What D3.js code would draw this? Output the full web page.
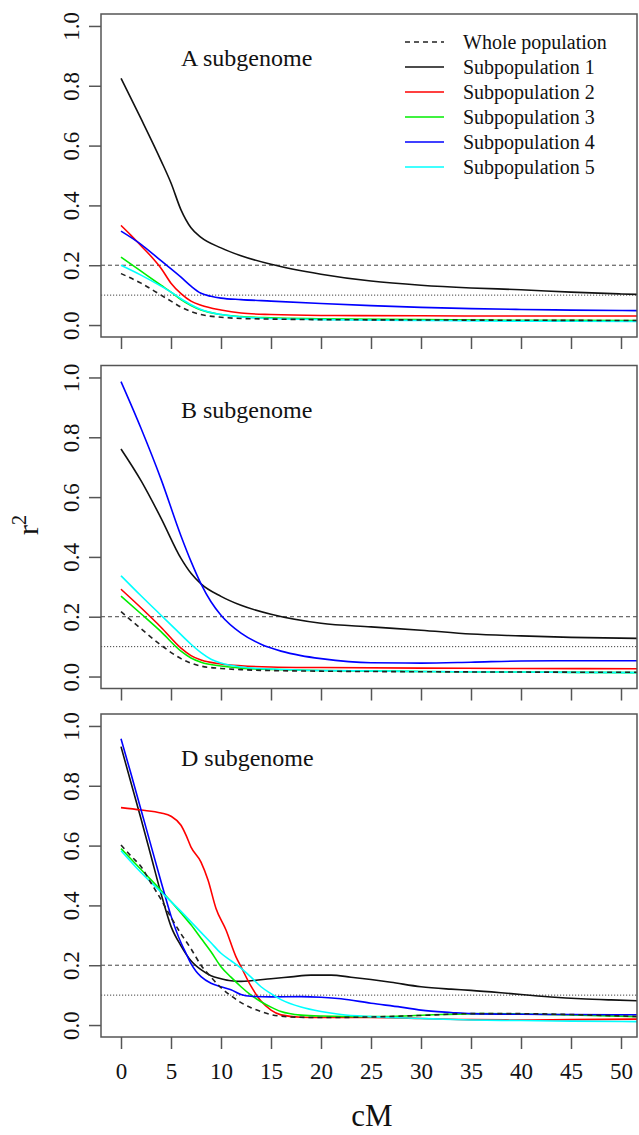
<!DOCTYPE html>
<html lang="en">
  <head>
    <meta charset="UTF-8" />
    <title>LD decay by subgenome</title>
    <script src="https://d3js.org/d3.v7.min.js"></script>
    <style>
      body {
        margin: 0;
        background: #fff;
        font-family: "Liberation Serif", "DejaVu Serif", serif;
      }
      .box {
        fill: none;
        stroke: #555;
        stroke-width: 1.5px;
      }
      .tick line {
        stroke: #555;
        stroke-width: 1.5px;
      }
      .series {
        fill: none;
        stroke-width: 1.6px;
      }
      .ref {
        stroke: #444;
        stroke-width: 1px;
      }
    </style>
  </head>
  <body>
    <svg id="chart" width="639" height="1135"></svg>
    <script>
      // ---- data ----
      const panels = ["A subgenome", "B subgenome", "D subgenome"];
      const seriesNames = [
        "Whole population",
        "Subpopulation 1",
        "Subpopulation 2",
        "Subpopulation 3",
        "Subpopulation 4",
        "Subpopulation 5",
      ];
      const seriesColors = ["#222", "#111", "#ff0000", "#00ee00", "#0000ff", "#00ffff"];
      const xTicks = [0, 5, 10, 15, 20, 25, 30, 35, 40, 45, 50];
      const yTicks = [0.0, 0.2, 0.4, 0.6, 0.8, 1.0];

      // [cM, r2] pairs, one array per series per panel
      const aWhole = [[0,0.172],[2,0.14],[4,0.1],[5,0.08],[6,0.06],[7,0.045],[8,0.035],[10,0.026],[12,0.022],[15,0.02],[20,0.018],[30,0.017],[40,0.016],[53,0.015]];
      const aSub1 = [[0,0.825],[2,0.69],[4,0.55],[5,0.475],[6,0.385],[7,0.325],[8,0.293],[10,0.258],[12,0.232],[15,0.203],[20,0.170],[25,0.147],[30,0.133],[35,0.124],[40,0.118],[45,0.110],[50,0.104],[53,0.101]];
      const aSub2 = [[0,0.333],[1,0.30],[2,0.265],[3,0.23],[4,0.19],[5,0.14],[6,0.105],[7,0.08],[8,0.066],[10,0.05],[12,0.04],[15,0.035],[20,0.032],[30,0.031],[40,0.030],[53,0.030]];
      const aSub3 = [[0,0.227],[2,0.18],[4,0.133],[5,0.11],[6,0.085],[7,0.065],[8,0.05],[10,0.035],[12,0.028],[15,0.024],[20,0.021],[30,0.018],[40,0.016],[53,0.015]];
      const aSub4 = [[0,0.314],[2,0.27],[4,0.215],[6,0.16],[7,0.13],[8,0.106],[9,0.096],[10,0.09],[12,0.085],[15,0.08],[20,0.072],[25,0.065],[30,0.059],[35,0.055],[40,0.052],[45,0.05],[53,0.048]];
      const aSub5 = [[0,0.2],[2,0.167],[4,0.13],[5,0.11],[6,0.088],[7,0.068],[8,0.052],[10,0.035],[12,0.027],[15,0.022],[20,0.018],[30,0.015],[40,0.013],[53,0.012]];

      const bWhole = [[0,0.217],[2,0.16],[4,0.105],[6,0.06],[7,0.045],[8,0.035],[10,0.027],[12,0.023],[15,0.02],[20,0.018],[30,0.016],[40,0.015],[53,0.014]];
      const bSub1 = [[0,0.761],[2,0.655],[4,0.53],[6,0.395],[7,0.345],[8,0.31],[10,0.268],[12,0.238],[15,0.208],[20,0.178],[25,0.166],[30,0.155],[35,0.142],[40,0.136],[45,0.131],[53,0.127]];
      const bSub2 = [[0,0.292],[2,0.23],[4,0.165],[6,0.095],[7,0.07],[8,0.055],[10,0.042],[12,0.036],[15,0.032],[20,0.03],[30,0.028],[40,0.027],[53,0.026]];
      const bSub3 = [[0,0.269],[2,0.21],[4,0.15],[6,0.085],[7,0.062],[8,0.048],[10,0.035],[12,0.028],[15,0.024],[20,0.02],[30,0.017],[40,0.015],[53,0.013]];
      const bSub4 = [[0,0.986],[2,0.83],[4,0.66],[6,0.47],[7,0.385],[8,0.31],[9,0.25],[10,0.205],[12,0.145],[14,0.108],[16,0.085],[18,0.07],[20,0.06],[25,0.046],[30,0.045],[35,0.048],[40,0.052],[45,0.053],[53,0.053]];
      const bSub5 = [[0,0.337],[2,0.27],[4,0.205],[6,0.14],[7,0.108],[8,0.08],[9,0.058],[10,0.045],[12,0.032],[15,0.025],[20,0.02],[30,0.017],[40,0.015],[53,0.013]];

      const dWhole = [[0,0.602],[1,0.565],[2,0.53],[3,0.475],[4,0.42],[5,0.36],[6,0.305],[7,0.255],[8,0.2],[9,0.16],[10,0.125],[11,0.098],[12,0.075],[13,0.058],[14,0.045],[15,0.035],[17,0.027],[20,0.025],[25,0.027],[30,0.032],[35,0.038],[40,0.038],[45,0.035],[53,0.027]];
      const dSub1 = [[0,0.931],[1,0.81],[2,0.69],[3,0.565],[4,0.44],[5,0.33],[6,0.265],[7,0.215],[8,0.185],[9,0.165],[10,0.155],[11,0.148],[12,0.146],[13,0.148],[15,0.155],[17,0.161],[19,0.167],[21,0.167],[23,0.16],[25,0.152],[27,0.143],[30,0.128],[33,0.12],[35,0.116],[38,0.108],[40,0.102],[43,0.094],[46,0.088],[49,0.084],[53,0.08]];
      const dSub2 = [[0,0.727],[2,0.719],[4,0.709],[5,0.698],[6,0.668],[6.5,0.635],[7,0.595],[8,0.545],[8.7,0.485],[9.5,0.39],[10.5,0.318],[11.5,0.228],[12,0.195],[13,0.13],[14,0.08],[15,0.05],[16,0.034],[18,0.026],[20,0.025],[25,0.025],[30,0.022],[35,0.018],[40,0.017],[45,0.018],[53,0.02]];
      const dSub3 = [[0,0.59],[2,0.52],[4,0.45],[6,0.375],[7,0.335],[8,0.29],[9,0.245],[10,0.195],[11,0.16],[12,0.128],[13,0.1],[14,0.078],[15,0.06],[16,0.045],[18,0.033],[20,0.03],[25,0.028],[28,0.03],[32,0.035],[36,0.038],[40,0.037],[45,0.034],[53,0.027]];
      const dSub4 = [[0,0.957],[1,0.84],[2,0.72],[3,0.6],[4,0.48],[5,0.365],[6,0.275],[6.5,0.24],[7,0.205],[7.5,0.18],[8,0.162],[9,0.14],[10,0.128],[11,0.118],[12,0.102],[13,0.096],[15,0.094],[18,0.095],[20,0.093],[22,0.088],[25,0.073],[28,0.06],[30,0.05],[33,0.042],[35,0.038],[40,0.036],[45,0.035],[53,0.034]];
      const dSub5 = [[0,0.583],[2,0.51],[4,0.445],[6,0.38],[7,0.345],[8,0.31],[9,0.275],[10,0.24],[11,0.215],[12,0.19],[13,0.16],[14,0.128],[15,0.105],[16,0.085],[18,0.06],[20,0.045],[22,0.035],[25,0.028],[30,0.022],[35,0.017],[40,0.015],[45,0.013],[53,0.011]];

      const panelData = [
        [aWhole, aSub1, aSub2, aSub3, aSub4, aSub5],
        [bWhole, bSub1, bSub2, bSub3, bSub4, bSub5],
        [dWhole, dSub1, dSub2, dSub3, dSub4, dSub5],
      ];
      const refLines = [0.2, 0.1];

      // ---- layout ----
      const left = 101;
      const right = 637;
      const panelTops = [14, 365.5, 714];
      const panelH = 323;
      const serif = '"Liberation Serif", "Times New Roman", serif';

      const svg = d3.select("#chart");

      const x = d3.scaleLinear().domain([-2, 51.6]).range([left, right]);

      panelTops.forEach((top, pi) => {
        const y = d3
          .scaleLinear()
          .domain([-0.04, 1.04])
          .range([top + panelH, top]);

        const g = svg.append("g");

        // clip for lines
        g.append("clipPath")
          .attr("id", "clip" + pi)
          .append("rect")
          .attr("x", left)
          .attr("y", top)
          .attr("width", right - left)
          .attr("height", panelH);

        // reference lines at r2 = 0.2 (dashed) and 0.1 (dotted)
        refLines.forEach((v, i) => {
          g.append("line")
            .attr("class", "ref")
            .attr("x1", left)
            .attr("x2", right)
            .attr("y1", y(v))
            .attr("y2", y(v))
            .attr("stroke-dasharray", i === 0 ? "4,3" : "1.2,1.8");
        });

        const line = d3
          .line()
          .x((d) => x(d[0]))
          .y((d) => y(d[1]))
          .curve(d3.curveMonotoneX);

        const plot = g.append("g").attr("clip-path", `url(#clip${pi})`);
        // subpopulations first, whole population dashed on top
        const order = [1, 2, 3, 4, 5, 0];
        order.forEach((si) => {
          plot
            .append("path")
            .datum(panelData[pi][si])
            .attr("class", "series")
            .attr("stroke", seriesColors[si])
            .attr("stroke-dasharray", si === 0 ? "5,4" : null)
            .attr("d", line);
        });

        // box
        g.append("rect")
          .attr("class", "box")
          .attr("x", left)
          .attr("y", top)
          .attr("width", right - left)
          .attr("height", panelH);

        // y axis
        const yAxis = g
          .append("g")
          .attr("transform", `translate(${left},0)`)
          .call(d3.axisLeft(y).tickValues(yTicks).tickSize(12).tickFormat(d3.format(".1f")));
        yAxis.select(".domain").remove();
        yAxis
          .selectAll("text")
          .style("font-family", serif)
          .style("font-size", "23px")
          .attr("fill", "#111")
          .attr("x", 0)
          .attr("dy", 0)
          .attr("text-anchor", "middle")
          .attr("transform", "translate(-22,0) rotate(-90)");

        // x axis
        const xAxis = g
          .append("g")
          .attr("transform", `translate(0,${top + panelH})`)
          .call(d3.axisBottom(x).tickValues(xTicks).tickSize(12).tickPadding(14));
        xAxis.select(".domain").remove();
        xAxis
          .selectAll("text")
          .style("font-family", serif)
          .style("font-size", "23px")
          .attr("fill", "#111");
        if (pi < 2) xAxis.selectAll("text").remove();

        // panel title
        g.append("text")
          .attr("x", 181)
          .attr("y", top + 52)
          .style("font-family", serif)
          .attr("font-size", 24)
          .attr("fill", "#111")
          .text(panels[pi]);
      });

      // legend (inside panel A)
      const legend = svg.append("g").style("font-family", serif);
      seriesNames.forEach((name, i) => {
        const ly = 42 + i * 25;
        legend
          .append("line")
          .attr("x1", 405)
          .attr("x2", 444)
          .attr("y1", ly)
          .attr("y2", ly)
          .attr("stroke", seriesColors[i])
          .attr("stroke-width", 1.6)
          .attr("stroke-dasharray", i === 0 ? "5,4" : null);
        legend
          .append("text")
          .attr("x", 463)
          .attr("y", ly + 7)
          .attr("font-size", 20)
          .attr("fill", "#111")
          .text(name);
      });

      // axis titles
      svg
        .append("text")
        .attr("x", 372)
        .attr("y", 1126)
        .attr("text-anchor", "middle")
        .style("font-family", serif)
        .attr("font-size", 31)
        .attr("fill", "#111")
        .text("cM");

      const yTitle = svg
        .append("text")
        .attr("transform", "translate(38,525) rotate(-90)")
        .attr("text-anchor", "middle")
        .style("font-family", serif)
        .attr("font-size", 30)
        .attr("fill", "#111");
      yTitle.append("tspan").text("r");
      yTitle.append("tspan").attr("font-size", 20).attr("dy", -12).text("2");
    </script>
  </body>
</html>
